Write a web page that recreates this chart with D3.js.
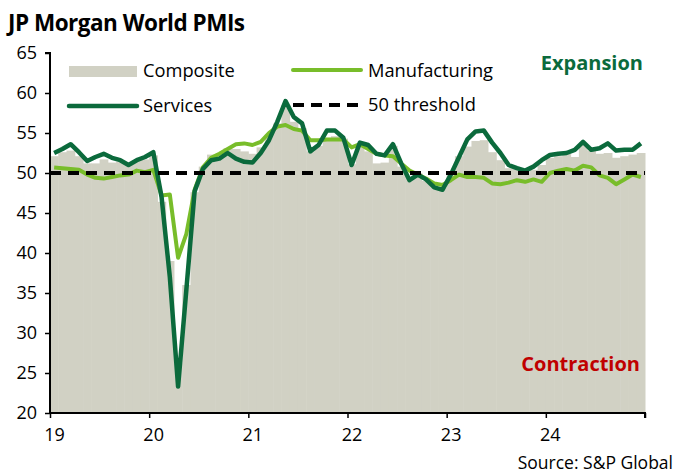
<!DOCTYPE html>
<html>
<head>
<meta charset="utf-8">
<script src="https://cdn.jsdelivr.net/npm/d3@7"></script>
<style>
  body { margin: 0; background: #fff; }
  svg { display: block; font-family: "Open Sans", "Noto Sans", sans-serif; }
</style>
</head>
<body>
<div id="chart"></div>
<script>
const yearLabels = ["19", "20", "21", "22", "23", "24"];
const yTicks = [20, 25, 30, 35, 40, 45, 50, 55, 60, 65];

const composite = [
  52.1, 52.6, 52.8, 52.1, 51.2, 51.2, 51.7, 51.3, 51.4, 51.0, 51.6, 51.7,
  52.2, 46.4, 39.0, 26.2, 36.0, 47.6, 50.8, 52.3, 52.1, 53.1, 53.0, 52.7,
  52.4, 53.2, 54.8, 56.2, 58.5, 56.4, 55.6, 52.7, 53.4, 54.4, 54.6, 54.3,
  51.1, 53.5, 52.7, 51.2, 51.3, 53.4, 50.8, 49.3, 50.0, 49.0, 48.2, 48.2,
  49.8, 52.1, 53.3, 54.0, 54.1, 52.6, 51.6, 50.6, 50.5, 50.0, 50.4, 51.0,
  51.9, 52.1, 52.4, 52.0, 53.5, 52.8, 52.4, 52.5, 51.9, 52.1, 52.3, 52.5
];
const manufacturing = [
  50.7, 50.6, 50.5, 50.4, 49.8, 49.4, 49.3, 49.5, 49.7, 49.8, 50.3, 50.1,
  50.4, 47.2, 47.3, 39.4, 42.4, 47.9, 50.7, 51.9, 52.4, 53.0, 53.6, 53.7,
  53.5, 53.9, 55.0, 55.8, 56.0, 55.5, 55.3, 54.1, 54.1, 54.2, 54.2, 54.2,
  53.2, 53.6, 53.0, 52.4, 52.2, 52.1, 51.2, 50.3, 49.8, 49.3, 48.7, 48.5,
  49.1, 49.8, 49.5, 49.5, 49.4, 48.7, 48.6, 48.8, 49.1, 48.9, 49.2, 48.9,
  50.0, 50.3, 50.5, 50.3, 50.9, 50.7, 49.7, 49.4, 48.6, 49.2, 49.8, 49.5
];
const services = [
  52.5, 53.0, 53.6, 52.6, 51.5, 52.0, 52.4, 51.9, 51.6, 51.0, 51.6, 52.0,
  52.6, 47.0, 37.0, 23.3, 35.4, 47.7, 50.5, 51.6, 51.8, 52.5, 51.8, 51.4,
  51.3, 52.5, 54.1, 56.4, 59.0, 57.0, 56.2, 52.7, 53.5, 55.3, 55.3, 54.4,
  51.0, 53.8, 53.5, 52.4, 52.2, 53.6, 51.2, 49.1, 49.8, 49.2, 48.2, 47.9,
  49.8, 52.0, 54.2, 55.2, 55.3, 53.8, 52.5, 51.0, 50.6, 50.3, 50.8, 51.6,
  52.25, 52.4, 52.5, 52.9, 53.9, 52.9, 53.1, 53.7, 52.8, 52.9, 52.9, 53.7
];
const threshold = 50;

const W = 676, H = 476;
const margin = { left: 50, right: 31, top: 53, bottom: 63 };
const x0 = margin.left, x1 = W - margin.right;
const yTop = margin.top, yBot = H - margin.bottom;

const idx = d3.range(composite.length);
const x = d3.scaleBand().domain(idx).range([x0, x1]).paddingInner(0).paddingOuter(0);
const y = d3.scaleLinear().domain([20, 65]).range([yBot, yTop]);
const yearScale = d3.scaleLinear().domain([0, yearLabels.length]).range([x0, x1]);

const svg = d3.select("#chart").append("svg").attr("width", W).attr("height", H);

// title
svg.append("text").attr("x", 8).attr("y", 31)
  .attr("font-size", 22.5).attr("font-weight", 700).attr("fill", "#000")
  .attr("letter-spacing", -0.5)
  .text("JP Morgan World PMIs");

// composite bars
svg.append("g").selectAll("rect").data(composite).join("rect")
  .attr("x", (d, i) => x(i))
  .attr("width", x.bandwidth() + 0.5)
  .attr("y", d => y(d))
  .attr("height", d => y(20) - y(d))
  .attr("fill", "#d1d1c4");

const line = (arr) => d3.line()
  .x((d, i) => x(i) + x.bandwidth() / 2)
  .y(d => y(d))(arr);

svg.append("path").attr("d", line(manufacturing))
  .attr("fill", "none").attr("stroke", "#78bd2a").attr("stroke-width", 4)
  .attr("stroke-linejoin", "round");
svg.append("path").attr("d", line(services))
  .attr("fill", "none").attr("stroke", "#0b6a3c").attr("stroke-width", 4.5)
  .attr("stroke-linejoin", "round");

// 50 threshold
svg.append("line")
  .attr("x1", x0).attr("x2", x1)
  .attr("y1", y(threshold)).attr("y2", y(threshold))
  .attr("stroke", "#000").attr("stroke-width", 4)
  .attr("stroke-dasharray", "11,7");

// y axis
const yAxis = d3.axisLeft(y).tickValues(yTicks).tickSize(5).tickPadding(8);
const gy = svg.append("g").attr("transform", `translate(${x0},0)`).call(yAxis);
gy.select(".domain").attr("stroke", "#000").attr("stroke-width", 2).attr("d", `M-5,${yTop}H0V${yBot}`);
gy.selectAll(".tick line").attr("stroke", "#000").attr("stroke-width", 1.5);
gy.selectAll(".tick text").attr("font-size", 18).attr("fill", "#000")
  .attr("font-family", "Open Sans, sans-serif");

// x axis
const xAxis = d3.axisBottom(yearScale).tickValues(d3.range(yearLabels.length + 1))
  .tickSize(5).tickFormat(d => yearLabels[d] || "").tickPadding(10);
const gx = svg.append("g").attr("transform", `translate(0,${yBot})`).call(xAxis);
gx.select(".domain").attr("stroke", "#000").attr("stroke-width", 2).attr("d", `M${x0},0H${x1}V5`);
gx.selectAll(".tick line").attr("stroke", "#000").attr("stroke-width", 1.5);
gx.selectAll(".tick text").attr("font-size", 18).attr("fill", "#000")
  .attr("dx", 4).attr("font-family", "Open Sans, sans-serif");

// legend
const leg = svg.append("g").attr("font-size", 18.3);
leg.append("rect").attr("x", 69).attr("y", 66).attr("width", 68).attr("height", 11).attr("fill", "#d1d1c4");
leg.append("text").attr("x", 143).attr("y", 77).text("Composite");
leg.append("line").attr("x1", 69).attr("x2", 137).attr("y1", 106).attr("y2", 106)
  .attr("stroke", "#0b6a3c").attr("stroke-width", 4.5).attr("stroke-linecap", "round");
leg.append("text").attr("x", 143).attr("y", 112).text("Services");
leg.append("line").attr("x1", 293).attr("x2", 361).attr("y1", 70).attr("y2", 70)
  .attr("stroke", "#78bd2a").attr("stroke-width", 4).attr("stroke-linecap", "round");
leg.append("text").attr("x", 368).attr("y", 77).text("Manufacturing");
leg.append("line").attr("x1", 293).attr("x2", 361).attr("y1", 105).attr("y2", 105)
  .attr("stroke", "#000").attr("stroke-width", 4).attr("stroke-dasharray", "11,7");
leg.append("text").attr("x", 368).attr("y", 111).text("50 threshold");

// annotations
svg.append("text").attr("x", 643).attr("y", 70).attr("text-anchor", "end")
  .attr("font-size", 20).attr("font-weight", 700).attr("fill", "#0b6a3c").text("Expansion");
svg.append("text").attr("x", 640).attr("y", 371).attr("text-anchor", "end")
  .attr("font-size", 20).attr("font-weight", 700).attr("fill", "#c00000").text("Contraction");

// source
svg.append("text").attr("x", 673).attr("y", 469).attr("text-anchor", "end")
  .attr("font-size", 17.5).attr("fill", "#000").text("Source: S&P Global");
</script>
</body>
</html>
